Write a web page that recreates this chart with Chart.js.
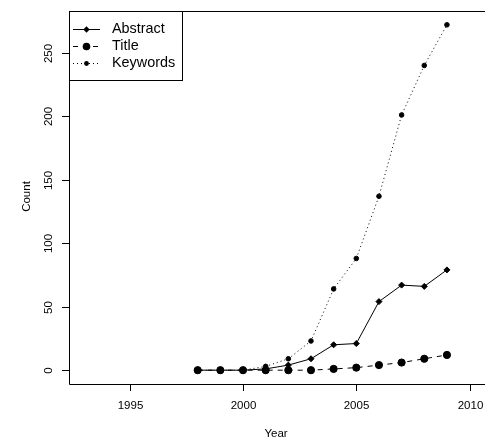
<!DOCTYPE html>
<html>
<head>
<meta charset="utf-8">
<script src="https://cdn.jsdelivr.net/npm/chart.js@4/dist/chart.umd.min.js"></script>
<style>
  html, body { margin: 0; background: #fff; overflow: hidden; }
  canvas { display: block; }
</style>
</head>
<body>
<canvas id="myChart" width="485" height="440"></canvas>
<script>
const years = [1998, 1999, 2000, 2001, 2002, 2003, 2004, 2005, 2006, 2007, 2008, 2009];
const abstractCounts = [0, 0, 0, 1, 4, 9, 20, 21, 54, 67, 66, 79];
const titleCounts = [0, 0, 0, 0, 0, 0, 1, 2, 4, 6, 9, 12];
const keywordCounts = [0, 0, 0, 3, 9, 23, 64, 88, 137, 201, 240, 272];
const seriesNames = ['Abstract', 'Title', 'Keywords'];
const xTicks = [1995, 2000, 2005, 2010];
const yTicks = [0, 50, 100, 150, 200, 250];

const FONT = '"Liberation Sans", Arial, Helvetica, sans-serif';

function toPoints(vals) {
    return years.map(function (y, i) { return { x: y, y: vals[i] }; });
}

// R style axes, box, labels and legend
const rAxes = {
    id: 'rAxes',
    afterDraw: function (chart) {
        const ctx = chart.ctx;
        const a = chart.chartArea;
        const xs = chart.scales.x;
        const ys = chart.scales.y;
        ctx.save();
        ctx.strokeStyle = '#000';
        ctx.fillStyle = '#000';
        ctx.lineWidth = 1;
        ctx.setLineDash([]);

        // box (right side falls outside the picture)
        const L = Math.round(a.left) + 0.5, T = Math.round(a.top) + 0.5, B = Math.round(a.bottom) + 0.5;
        ctx.beginPath();
        ctx.moveTo(485, T);
        ctx.lineTo(L, T);
        ctx.lineTo(L, B);
        ctx.lineTo(485, B);
        ctx.stroke();

        // x ticks
        ctx.font = '11.5px ' + FONT;
        ctx.textAlign = 'center';
        ctx.textBaseline = 'middle';
        xTicks.forEach(function (t) {
            const px = Math.round(xs.getPixelForValue(t)) + 0.5;
            ctx.beginPath();
            ctx.moveTo(px, a.bottom);
            ctx.lineTo(px, a.bottom + 7);
            ctx.stroke();
            ctx.fillText(String(t), px, a.bottom + 22);
        });

        // y ticks, labels rotated
        yTicks.forEach(function (t) {
            const py = Math.round(ys.getPixelForValue(t)) + 0.5;
            ctx.beginPath();
            ctx.moveTo(a.left - 7, py);
            ctx.lineTo(a.left, py);
            ctx.stroke();
            ctx.save();
            ctx.translate(a.left - 20, py);
            ctx.rotate(-Math.PI / 2);
            ctx.fillText(String(t), 0, 0);
            ctx.restore();
        });

        // axis titles
        ctx.fillText('Year', (a.left + 485) / 2 - 1, 434);
        ctx.save();
        ctx.translate(27, (a.top + a.bottom) / 2 - 1);
        ctx.rotate(-Math.PI / 2);
        ctx.fillText('Count', 0, 0);
        ctx.restore();

        // legend
        const lx = L, ly = T;
        ctx.fillStyle = '#fff';
        ctx.fillRect(lx, ly, 113, 69);
        ctx.strokeRect(lx, ly, 113, 69);
        ctx.fillStyle = '#000';
        ctx.font = '14.4px ' + FONT;
        ctx.textAlign = 'left';
        const rows = [29, 46, 63];
        chart.data.datasets.forEach(function (ds, i) {
            const y = rows[i] + 0.5;
            ctx.setLineDash(ds.borderDash || []);
            ctx.beginPath();
            ctx.moveTo(73, y);
            ctx.lineTo(100, y);
            ctx.stroke();
            ctx.setLineDash([]);
            const r = ds.legendRadius;
            ctx.beginPath();
            if (ds.pointStyle === 'rectRot') {
                ctx.moveTo(86.5, y - r);
                ctx.lineTo(86.5 + r, y);
                ctx.lineTo(86.5, y + r);
                ctx.lineTo(86.5 - r, y);
                ctx.closePath();
            } else {
                ctx.arc(86.5, y, r, 0, Math.PI * 2);
            }
            ctx.fill();
            ctx.fillText(ds.label, 112, y);
        });
        ctx.restore();
    }
};

const ctx = document.getElementById('myChart');

new Chart(ctx, {
    type: 'line',
    data: {
        datasets: [{
            label: seriesNames[0],
            data: toPoints(abstractCounts),
            borderColor: '#000',
            backgroundColor: '#000',
            borderWidth: 1,
            pointStyle: 'rectRot',
            pointRadius: 3,
            legendRadius: 3.2
        }, {
            label: seriesNames[1],
            data: toPoints(titleCounts),
            borderColor: '#000',
            backgroundColor: '#000',
            borderWidth: 1,
            borderDash: [5, 5],
            pointStyle: 'circle',
            pointRadius: 3.6,
            legendRadius: 3.8
        }, {
            label: seriesNames[2],
            data: toPoints(keywordCounts),
            borderColor: '#000',
            backgroundColor: '#000',
            borderWidth: 1,
            borderDash: [1, 3],
            pointStyle: 'circle',
            pointRadius: 2.3,
            legendRadius: 2.4
        }]
    },
    options: {
        responsive: false,
        animation: false,
        layout: { autoPadding: false, padding: { left: 69, top: 11, right: 0, bottom: 56 } },
        plugins: {
            legend: { display: false },
            tooltip: { enabled: false }
        },
        elements: { point: { borderWidth: 0 }, line: { tension: 0 } },
        scales: {
            x: { type: 'linear', display: false, min: 1992.32, max: 2010.68 },
            y: { type: 'linear', display: false, min: -10.88, max: 282.88 }
        }
    },
    plugins: [rAxes]
});
</script>
</body>
</html>
